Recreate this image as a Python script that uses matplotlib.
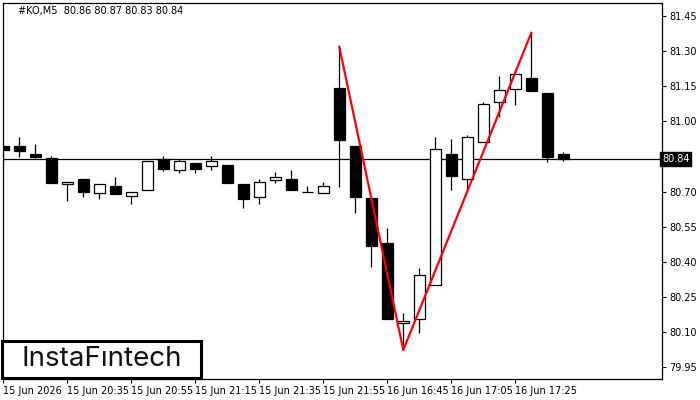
import matplotlib
matplotlib.use("Agg")
import matplotlib.pyplot as plt
from matplotlib.patches import Rectangle

# M5 candles, #KO
opens = [80.894, 80.894, 80.860, 80.842, 80.730, 80.753, 80.692, 80.723, 80.679, 80.708,
         80.840, 80.791, 80.822, 80.811, 80.813, 80.732, 80.678, 80.750, 80.752, 80.700,
         80.692, 81.141, 80.894, 80.672, 80.480, 80.139, 80.156, 80.299, 80.860, 80.752,
         80.910, 81.081, 81.139, 81.184, 81.121, 80.86]
highs = [80.894, 80.934, 80.903, 80.852, 80.742, 80.753, 80.732, 80.762, 80.700, 80.830,
         80.852, 80.840, 80.822, 80.852, 80.813, 80.732, 80.752, 80.782, 80.791, 80.722,
         80.741, 81.319, 80.894, 80.672, 80.543, 80.179, 80.372, 80.932, 80.924, 80.941,
         81.084, 81.194, 81.219, 81.378, 81.121, 80.87]
lows = [80.822, 80.849, 80.843, 80.738, 80.661, 80.678, 80.669, 80.690, 80.648, 80.708,
        80.789, 80.780, 80.780, 80.791, 80.738, 80.631, 80.648, 80.738, 80.708, 80.700,
        80.692, 80.720, 80.609, 80.378, 80.156, 80.023, 80.097, 80.299, 80.706, 80.706,
        80.910, 81.020, 81.070, 81.131, 80.827, 80.83]
closes = [80.877, 80.872, 80.849, 80.738, 80.742, 80.698, 80.732, 80.690, 80.700, 80.830,
          80.797, 80.829, 80.797, 80.829, 80.738, 80.669, 80.739, 80.760, 80.708, 80.700,
          80.722, 80.922, 80.678, 80.468, 80.156, 80.148, 80.342, 80.880, 80.767, 80.931,
          81.073, 81.132, 81.202, 81.131, 80.849, 80.84]

# pattern line (bar index, price)
pattern_x = [21, 25, 33]
pattern_y = [81.319, 80.023, 81.378]

last_price = 80.84
header = "#KO,M5  80.86 80.87 80.83 80.84"

price_ticks = [79.95, 80.10, 80.25, 80.40, 80.55, 80.70, 81.00, 81.15, 81.30, 81.45]
time_tick_pos = [0, 4, 8, 12, 16, 20, 24, 28, 32]
time_tick_labels = ["15 Jun 2026", "15 Jun 20:35", "15 Jun 20:55", "15 Jun 21:15",
                    "15 Jun 21:35", "15 Jun 21:55", "16 Jun 16:45", "16 Jun 17:05",
                    "16 Jun 17:25"]

W, H = 700, 400
fig = plt.figure(figsize=(7, 4), dpi=100)
ax = fig.add_axes([3 / W, 21 / H, 659 / W, 376 / H])
ax.set_xlim(-0.02, 41.17)
ax.set_ylim(79.8987, 81.5056)

body_w = 0.68
for i, (o, h, l, c) in enumerate(zip(opens, highs, lows, closes)):
    ax.vlines(i, l, h, color="black", linewidth=0.9, zorder=2)
    bottom = min(o, c)
    height = abs(c - o)
    face = "white" if c > o else "black"
    ax.add_patch(Rectangle((i - body_w / 2, bottom), body_w, height,
                           facecolor=face, edgecolor="black", linewidth=0.9, zorder=3))

ax.axhline(last_price, color="black", linewidth=0.9, zorder=1)
ax.plot(pattern_x, pattern_y, color="#ff0000", linewidth=1.6, zorder=4)

ax.text(15 / 659, 1 - 8 / 376, header, transform=ax.transAxes, fontsize=7,
        ha="left", va="center", color="black")

# price scale on the right
ax.yaxis.tick_right()
ax.set_yticks(price_ticks)
ax.set_yticklabels([f"{p:.2f}" for p in price_ticks])
ax.tick_params(axis="y", direction="out", length=3, width=0.8, labelsize=7, pad=2)
ax.text(1.0, last_price, f"{last_price:.2f}", transform=ax.get_yaxis_transform(),
        fontsize=7, color="white", ha="left", va="center",
        bbox=dict(boxstyle="square,pad=0.2", facecolor="black", edgecolor="black"))

ax.set_xticks(time_tick_pos)
ax.set_xticklabels(time_tick_labels, ha="left")
ax.tick_params(axis="x", direction="out", length=3, width=0.8, labelsize=7, pad=2)

for s in ax.spines.values():
    s.set_linewidth(0.9)

# logo
fig.patches.append(Rectangle((1.5 / W, 22 / H), 199 / W, 37 / H, transform=fig.transFigure,
                             facecolor="white", edgecolor="black", linewidth=2.2, zorder=10))
fig.text(102 / W, 40.5 / H, "InstaFıntech", fontsize=20, family="Inter", color="#111111",
         ha="center", va="center", zorder=11)

fig.savefig("out.png", dpi=100)
